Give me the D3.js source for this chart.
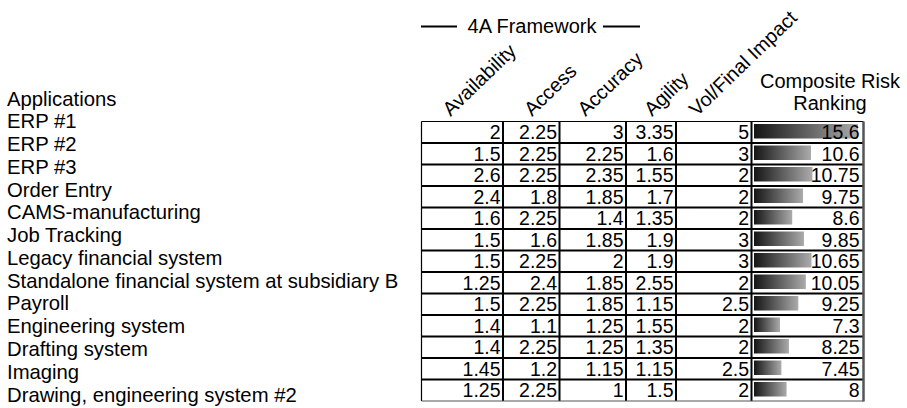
<!DOCTYPE html>
<html>
<head>
<meta charset="utf-8">
<script src="https://cdn.jsdelivr.net/npm/d3@7/dist/d3.min.js"></script>
<style>
  html, body { margin: 0; padding: 0; background: #fff; }
  svg { display: block; }
  text { font-family: "Liberation Sans", Arial, Helvetica, sans-serif; fill: #000; }
</style>
</head>
<body>
<svg id="chart" width="907" height="408"></svg>
<script>
// Applications assessed against the 4A framework
const applications = [
  "ERP #1", "ERP #2", "ERP #3", "Order Entry", "CAMS-manufacturing",
  "Job Tracking", "Legacy financial system",
  "Standalone financial system at subsidiary B", "Payroll",
  "Engineering system", "Drafting system", "Imaging",
  "Drawing, engineering system #2"
];
const factors = ["Availability", "Access", "Accuracy", "Agility", "Vol/Final Impact"];

const availability = [2, 1.5, 2.6, 2.4, 1.6, 1.5, 1.5, 1.25, 1.5, 1.4, 1.4, 1.45, 1.25];
const access       = [2.25, 2.25, 2.25, 1.8, 2.25, 1.6, 2.25, 2.4, 2.25, 1.1, 2.25, 1.2, 2.25];
const accuracy     = [3, 2.25, 2.35, 1.85, 1.4, 1.85, 2, 1.85, 1.85, 1.25, 1.25, 1.15, 1];
const agility      = [3.35, 1.6, 1.55, 1.7, 1.35, 1.9, 1.9, 2.55, 1.15, 1.55, 1.35, 1.15, 1.5];
const volImpact    = [5, 3, 2, 2, 2, 3, 3, 2, 2.5, 2, 2, 2.5, 2];
const composite    = [15.6, 10.6, 10.75, 9.75, 8.6, 9.85, 10.65, 10.05, 9.25, 7.3, 8.25, 7.45, 8];

const factorValues = [availability, access, accuracy, agility, volImpact];

// ---- layout ----
const svg = d3.select("#chart");
const FONT = 19.5;
const colEdges = [421.5, 503, 559.5, 626, 676, 751.5, 863.5];
const tableTop = 121.5, tableBottom = 401;

const rowScale = d3.scaleBand().domain(applications).range([tableTop, tableBottom]).padding(0);
const colLeft = d3.scaleOrdinal().domain([...factors, "Composite"]).range(colEdges.slice(0, 6));
const colRight = d3.scaleOrdinal().domain([...factors, "Composite"]).range(colEdges.slice(1));

// left-hand list of applications
const labelScale = d3.scalePoint().domain(["Applications", ...applications]).range([105.5, 401.5]);
svg.append("g").selectAll("text")
  .data(labelScale.domain())
  .join("text")
  .attr("x", 7)
  .attr("y", d => labelScale(d))
  .style("font-size", "20.3px")
  .text(d => d);

// "4A Framework" group header with rules either side
const hdr = svg.append("g");
hdr.append("line").attr("x1", 421).attr("x2", 457).attr("y1", 26.5).attr("y2", 26.5)
  .attr("stroke", "#000").attr("stroke-width", 2);
hdr.append("line").attr("x1", 603).attr("x2", 640).attr("y1", 26.5).attr("y2", 26.5)
  .attr("stroke", "#000").attr("stroke-width", 2);
hdr.append("text").attr("x", 532).attr("y", 33).attr("text-anchor", "middle")
  .style("font-size", "20px").text("4A Framework");

// rotated factor headers
const headerInset = [29, 29, 26, 26, 21];
svg.append("g").selectAll("text")
  .data(factors)
  .join("text")
  .attr("transform", (d, i) => `translate(${colLeft(d) + headerInset[i]},${117}) rotate(-44)`)
  .style("font-size", "19.8px")
  .text(d => d);

// composite header, two lines
const compCx = 830;
svg.append("text").attr("x", compCx).attr("y", 88).attr("text-anchor", "middle")
  .style("font-size", "20px").text("Composite Risk");
svg.append("text").attr("x", compCx).attr("y", 110).attr("text-anchor", "middle")
  .style("font-size", "20px").text("Ranking");

// gradient used by every composite bar
const defs = svg.append("defs");
const grad = defs.append("linearGradient").attr("id", "barGrad")
  .attr("x1", "0%").attr("x2", "100%").attr("y1", "0%").attr("y2", "0%");
grad.append("stop").attr("offset", "0%").attr("stop-color", "#151515");
grad.append("stop").attr("offset", "100%").attr("stop-color", "#ababab");

// composite data bars
const barLen = d3.scaleLinear().domain([d3.min(composite), d3.max(composite)]).range([26, 104]);
svg.append("g").selectAll("rect")
  .data(applications)
  .join("rect")
  .attr("x", colLeft("Composite") + 2.5)
  .attr("y", d => rowScale(d) + 2.5)
  .attr("width", (d, i) => barLen(composite[i]))
  .attr("height", 14.5)
  .attr("fill", "url(#barGrad)");

// cell values, right aligned
const cells = svg.append("g").style("font-size", FONT + "px");
factors.forEach((f, j) => {
  cells.append("g").selectAll("text")
    .data(applications)
    .join("text")
    .attr("x", colRight(f) - 2.5)
    .attr("y", d => rowScale(d) + rowScale.bandwidth() - 4)
    .attr("text-anchor", "end")
    .text((d, i) => factorValues[j][i]);
});
cells.append("g").selectAll("text")
  .data(applications)
  .join("text")
  .attr("x", colRight("Composite") - 4)
  .attr("y", d => rowScale(d) + rowScale.bandwidth() - 4)
  .attr("text-anchor", "end")
  .text((d, i) => composite[i]);

// grid lines
const grid = svg.append("g");
grid.selectAll("line.row")
  .data(applications.slice(1))
  .join("line")
  .attr("class", "row")
  .attr("x1", colEdges[0]).attr("x2", colEdges[6])
  .attr("y1", d => rowScale(d)).attr("y2", d => rowScale(d))
  .attr("stroke", "#000").attr("stroke-width", 2);
grid.selectAll("line.col")
  .data(colEdges.slice(1, 6))
  .join("line")
  .attr("class", "col")
  .attr("x1", d => d).attr("x2", d => d)
  .attr("y1", tableTop).attr("y2", tableBottom)
  .attr("stroke", "#000").attr("stroke-width", 2);
// outer frame
grid.append("line").attr("x1", colEdges[0]).attr("x2", colEdges[6])
  .attr("y1", tableTop).attr("y2", tableTop).attr("stroke", "#000").attr("stroke-width", 1.2);
grid.append("line").attr("x1", colEdges[0]).attr("x2", colEdges[0])
  .attr("y1", tableTop).attr("y2", tableBottom).attr("stroke", "#000").attr("stroke-width", 1.2);
grid.append("line").attr("x1", colEdges[0]).attr("x2", colEdges[6])
  .attr("y1", tableBottom).attr("y2", tableBottom).attr("stroke", "#555").attr("stroke-width", 1.2);
grid.append("line").attr("x1", colEdges[6]).attr("x2", colEdges[6])
  .attr("y1", tableTop).attr("y2", tableBottom + 0.6).attr("stroke", "#555").attr("stroke-width", 2.5);
</script>
</body>
</html>
